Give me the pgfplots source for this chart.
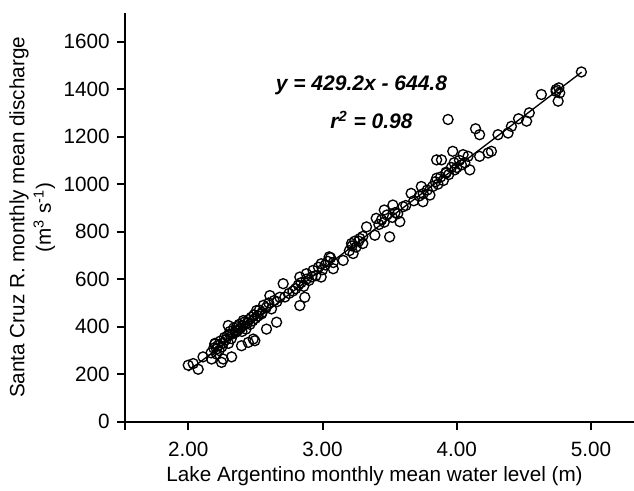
\documentclass[border=0pt]{standalone}
\usepackage{pgfplots}
\pgfplotsset{compat=1.18}
\usepackage{fontspec}
\setmainfont{Liberation Sans}

\begin{document}
\fontsize{12.4}{15}\selectfont
\begin{tikzpicture}
\begin{axis}[
    scale only axis,
    width=305pt, height=245pt,
    xmin=1.53, xmax=5.32,
    ymin=0, ymax=1720,
    axis x line*=bottom,
    axis y line*=left,
    axis line style={line width=1.2pt},
    tick align=outside,
    major tick length=5pt,
    tick style={line width=1.2pt, black},
    xtick={2,3,4,5},
    ytick={0,200,...,1600},
    extra x ticks={1.53},
    extra x tick labels={},
    xticklabel style={yshift=-3pt, /pgf/number format/.cd, fixed, fixed zerofill, precision=2},
    yticklabel style={/pgf/number format/1000 sep={}},
    /pgf/number format/assume math mode=true,
    ticklabel style={font=\fontsize{12.4}{15}\selectfont},
    xlabel={Lake Argentino monthly mean water level (m)},
    ylabel={Santa Cruz R. monthly mean discharge\\(m\textsuperscript{3} s\textsuperscript{-1})},
    ylabel style={align=center, font=\fontsize{12.4}{16}\selectfont, yshift=-3.5pt},
    xlabel style={font=\fontsize{12.4}{15}\selectfont, at={(axis description cs:0.5,0)}, anchor=center, yshift=-32.4pt, xshift=-3pt},
    clip=false,
]
\addplot[only marks, mark=o, mark size=3pt, mark options={line width=0.8pt, black}]
coordinates {
(2.000,238)(2.037,245)(2.074,221)(2.110,273)(2.174,264)(2.198,327)(2.211,306)
(2.248,250)(2.260,264)(2.323,273)(2.298,405)(2.310,369)(2.360,383)(2.397,320)
(2.410,426)(2.447,334)(2.484,348)(2.496,341)(2.509,468)(2.546,454)(2.583,390)
(2.608,531)(2.658,419)(2.707,581)(2.682,524)(2.831,489)(2.868,524)(2.831,609)
(2.880,623)(2.930,637)(2.990,609)(2.990,665)(3.050,694)(3.080,644)(3.154,679)
(3.216,750)(3.228,708)(3.278,771)(3.300,750)(3.328,820)(3.390,785)(3.400,856)
(3.460,891)(3.500,778)(3.524,912)(3.576,842)(3.600,905)(3.660,961)(3.736,990)
(3.748,926)(3.800,954)(3.850,1025)(3.850,1102)(3.886,1102)(3.920,1046)(3.935,1272)
(3.970,1138)(3.985,1060)(4.035,1081)(4.047,1124)(4.084,1117)(4.097,1060)(4.140,1233)
(4.170,1208)(4.170,1117)(4.233,1131)(4.258,1138)(4.307,1208)(4.382,1215)(4.407,1243)
(4.520,1265)(4.540,1300)(4.630,1377)(4.740,1398)(4.755,1349)(4.767,1384)(4.928,1472)
(2.170,290)(2.190,310)(2.200,330)(2.210,285)(2.220,320)(2.230,300)(2.240,340)
(2.250,315)(2.260,330)(2.270,355)(2.280,345)(2.290,360)(2.300,330)(2.310,380)
(2.320,350)(2.330,370)(2.340,395)(2.350,375)(2.360,400)(2.370,385)(2.380,410)
(2.390,395)(2.400,380)(2.410,405)(2.420,420)(2.430,390)(2.440,415)(2.450,430)
(2.460,410)(2.470,440)(2.480,425)(2.490,450)(2.500,435)(2.520,445)(2.530,470)
(2.550,460)(2.560,490)(2.580,480)(2.600,500)(2.620,475)(2.640,510)(2.660,505)
(2.720,525)(2.750,540)(2.780,550)(2.800,560)(2.820,575)(2.840,585)(2.860,570)
(2.880,600)(2.900,595)(2.920,610)(2.950,615)(2.970,650)(3.000,640)(3.020,660)
(3.040,675)(3.060,690)(3.080,670)(3.200,720)(3.220,740)(3.240,760)(3.250,735)
(3.270,760)(3.300,780)(3.420,830)(3.440,850)(3.460,840)(3.480,870)(3.520,860)
(3.540,880)(3.560,875)(3.620,910)(3.680,930)(3.720,950)(3.750,960)(3.780,975)
(3.820,990)(3.840,1010)(3.860,1000)(3.880,1030)(3.900,1015)(3.920,1050)(3.940,1040)
(3.960,1070)(3.980,1090)(4.000,1070)(4.020,1100)(4.060,1090)(4.460,1275)(4.740,1390)
(4.760,1405)
};
\addplot[black, line width=0.8pt] coordinates {(2.00,213.6)(4.93,1471.2)};
\node[font=\fontsize{12.6}{15}\selectfont\bfseries\itshape] at (axis cs:3.29,1415) {y = 429.2x - 644.8};
\node[font=\fontsize{12.6}{15}\selectfont\bfseries\itshape] at (axis cs:3.365,1271) {r\textsuperscript{2} = 0.98};
\coordinate (sw) at (rel axis cs:0,0);
\coordinate (ne) at (rel axis cs:1,1);
\end{axis}
\pgfresetboundingbox
\path ([shift={(-75pt,-41.4pt)}]sw) rectangle ([shift={(0pt,7.8pt)}]ne);
\end{tikzpicture}
\end{document}
